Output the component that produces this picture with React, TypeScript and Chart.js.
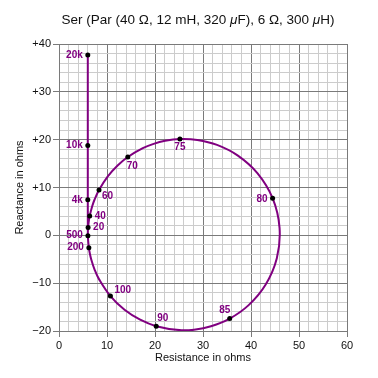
import React, { useEffect, useRef } from 'react';
import { Chart, registerables } from 'chart.js';

Chart.register(...registerables);

// Impedance locus (resistance R, reactance X, in ohms)
const CURVE_R = [
  6.0, 6.015, 6.064, 6.171, 6.392, 6.901, 7.415, 8.335, 10.162, 12.21, 14.33, 17.46, 19.56,
  22.11, 25.19, 28.81, 32.92, 37.27, 41.37, 44.5, 45.95, 45.38, 43.03, 39.51, 35.56, 31.66,
  28.13, 25.05, 20.26, 16.91, 13.65, 10.71, 8.327, 7.411, 6.704, 6.356, 6.22, 6.08, 6.026,
  6.006, 6.002, 6.0, 6.0, 6.0,
];
const CURVE_X = [
  0.0, 0.784, 1.64, 2.665, 4.018, 6.028, 7.492, 9.491, 12.336, 14.61, 16.38, 18.22, 19.07,
  19.76, 20.13, 19.94, 18.91, 16.67, 12.95, 7.76, 1.56, -4.78, -10.33, -14.59, -17.41, -19.02,
  -19.72, -19.81, -18.99, -17.64, -15.55, -12.7, -9.155, -7.153, -4.997, -3.437, -2.585, -1.22,
  -0.079, 1.384, 3.521, 7.416, 18.8, 37.68,
];

// Marked frequency points
const MARK_LABELS = ['20', '40', '60', '70', '75', '80', '85', '90', '100', '200', '500', '4k', '10k', '20k'];
const MARK_R = [6.064, 6.392, 8.335, 14.33, 25.19, 44.5, 35.56, 20.26, 10.71, 6.22, 6.026, 6.0, 6.0, 6.0];
const MARK_X = [1.64, 4.018, 9.491, 16.38, 20.13, 7.76, -17.41, -18.99, -12.7, -2.585, -0.079, 7.416, 18.8, 37.68];

const X_TICK_LABELS = ['0', '10', '20', '30', '40', '50', '60'];
const Y_TICK_LABELS = ['\u221220', '\u221210', '0', '+10', '+20', '+30', '+40'];

const TITLE_PARTS: [string, boolean][] = [
  ['Ser (Par (40 \u03A9, 12 mH, 320 ', false],
  ['\u03BC', true],
  ['F), 6 \u03A9, 300 ', false],
  ['\u03BC', true],
  ['H)', false],
];
const X_TITLE = 'Resistance in ohms';
const Y_TITLE = 'Reactance in ohms';

// label placement: [textAlign, dx, dy]
const LABEL_PLACE: Record<string, [CanvasTextAlign, number, number]> = {
  '20k': ['right', -5, 0],
  '10k': ['right', -5, 0],
  '4k': ['right', -5, 0],
  '500': ['right', -5, 0],
  '200': ['right', -5, 0],
  '20': ['left', 5, 0],
  '40': ['left', 5, 0],
  '60': ['left', 3, 6],
  '70': ['left', -1, 9],
  '75': ['center', 0, 8],
  '80': ['right', -5, 1],
  '85': ['center', -5, -8],
  '90': ['left', 1, -8],
  '100': ['left', 4, -6],
};

const FONT = '"Liberation Sans", Arial, Helvetica, sans-serif';
const PURPLE = '#800080';
const MAJOR = '#7a7a7a';
const MINOR = '#cccccc';

const gridValues = (min: number, max: number, step: number) => {
  const out: { value: number }[] = [];
  for (let v = min; v <= max + 1e-9; v += step) out.push({ value: v });
  return out;
};

const labelPlugin = {
  id: 'pointLabels',
  afterDatasetsDraw(chart: any) {
    const { ctx, scales } = chart;
    ctx.save();
    ctx.font = `bold 10px ${FONT}`;
    ctx.fillStyle = PURPLE;
    ctx.textBaseline = 'middle';
    MARK_LABELS.forEach((lab, i) => {
      const px = scales.x.getPixelForValue(MARK_R[i]);
      const py = scales.y.getPixelForValue(MARK_X[i]);
      const [align, dx, dy] = LABEL_PLACE[lab];
      ctx.textAlign = align;
      ctx.fillText(lab, px + dx, py + dy);
    });
    ctx.restore();
  },
};

const titlePlugin = {
  id: 'mixedTitle',
  afterDraw(chart: any) {
    const { ctx } = chart;
    ctx.save();
    ctx.fillStyle = '#111';
    ctx.textBaseline = 'alphabetic';
    ctx.textAlign = 'left';
    const size = 13.5;
    const widths = TITLE_PARTS.map(([t, it]) => {
      ctx.font = `${it ? 'italic ' : ''}${size}px ${FONT}`;
      return ctx.measureText(t).width;
    });
    const total = widths.reduce((a, b) => a + b, 0);
    let x = 198 - total / 2;
    TITLE_PARTS.forEach(([t, it], i) => {
      ctx.font = `${it ? 'italic ' : ''}${size}px ${FONT}`;
      ctx.fillText(t, x, 24);
      x += widths[i];
    });
    ctx.restore();
  },
};

export default function App() {
  const ref = useRef<HTMLCanvasElement | null>(null);
  useEffect(() => {
    if (!ref.current) return;
    const tickFont = { family: FONT, size: 11 };
    const chart = new Chart(ref.current, {
      type: 'scatter',
      data: {
        datasets: [
          {
            data: CURVE_R.map((r, i) => ({ x: r, y: CURVE_X[i] })),
            showLine: true,
            borderColor: PURPLE,
            borderWidth: 2,
            pointRadius: 0,
            tension: 0.4,
            fill: false,
            order: 1,
          } as any,
          {
            data: MARK_R.map((r, i) => ({ x: r, y: MARK_X[i] })),
            showLine: false,
            pointRadius: 2.5,
            pointBackgroundColor: '#000',
            pointBorderColor: '#000',
            pointBorderWidth: 0,
            order: 0,
          } as any,
        ],
      },
      options: {
        responsive: false,
        animation: false,
        events: [],
        layout: { padding: { top: 44, right: 31, left: 0, bottom: 0 } },
        plugins: {
          legend: { display: false },
          tooltip: { enabled: false },
          title: { display: false },
        },
        scales: {
          x: {
            type: 'linear',
            min: 0,
            max: 60,
            afterBuildTicks: (s: any) => {
              s.ticks = gridValues(0, 60, 2);
            },
            afterFit: (s: any) => {
              s.height = 47;
            },
            ticks: {
              autoSkip: false,
              maxRotation: 0,
              padding: 2,
              font: tickFont,
              color: '#111',
              callback: (v: any) => {
                const n = Math.round(Number(v));
                return n % 10 === 0 ? X_TICK_LABELS[n / 10] : '';
              },
            },
            grid: {
              color: (c: any) => (Math.round(c.tick.value) % 10 === 0 ? MAJOR : MINOR),
              tickColor: (c: any) => (Math.round(c.tick.value) % 10 === 0 ? MAJOR : 'transparent'),
              tickLength: 6,
              lineWidth: 1,
            },
            border: { color: MAJOR, width: 1 },
            title: {
              display: true,
              text: X_TITLE,
              font: { family: FONT, size: 11 },
              color: '#111',
              padding: { top: 0, bottom: 13 },
            },
          },
          y: {
            type: 'linear',
            min: -20,
            max: 40,
            afterBuildTicks: (s: any) => {
              s.ticks = gridValues(-20, 40, 2);
            },
            afterFit: (s: any) => {
              s.width = 59;
            },
            ticks: {
              autoSkip: false,
              padding: 2,
              font: tickFont,
              color: '#111',
              callback: (v: any) => {
                const n = Math.round(Number(v));
                return n % 10 === 0 ? Y_TICK_LABELS[(n + 20) / 10] : '';
              },
            },
            grid: {
              color: (c: any) => (Math.round(c.tick.value) % 10 === 0 ? MAJOR : MINOR),
              tickColor: (c: any) => (Math.round(c.tick.value) % 10 === 0 ? MAJOR : 'transparent'),
              tickLength: 6,
              lineWidth: 1,
            },
            border: { color: MAJOR, width: 1 },
            title: {
              display: true,
              text: Y_TITLE,
              font: { family: FONT, size: 11 },
              color: '#111',
              padding: { top: 13, bottom: 0 },
            },
          },
        },
      } as any,
      plugins: [labelPlugin, titlePlugin],
    });
    return () => chart.destroy();
  }, []);
  return (
    <div style={{ position: 'absolute', left: 0, top: 0, width: 378, height: 378, background: '#fff' }}>
      <canvas ref={ref} width={378} height={378} />
    </div>
  );
}
